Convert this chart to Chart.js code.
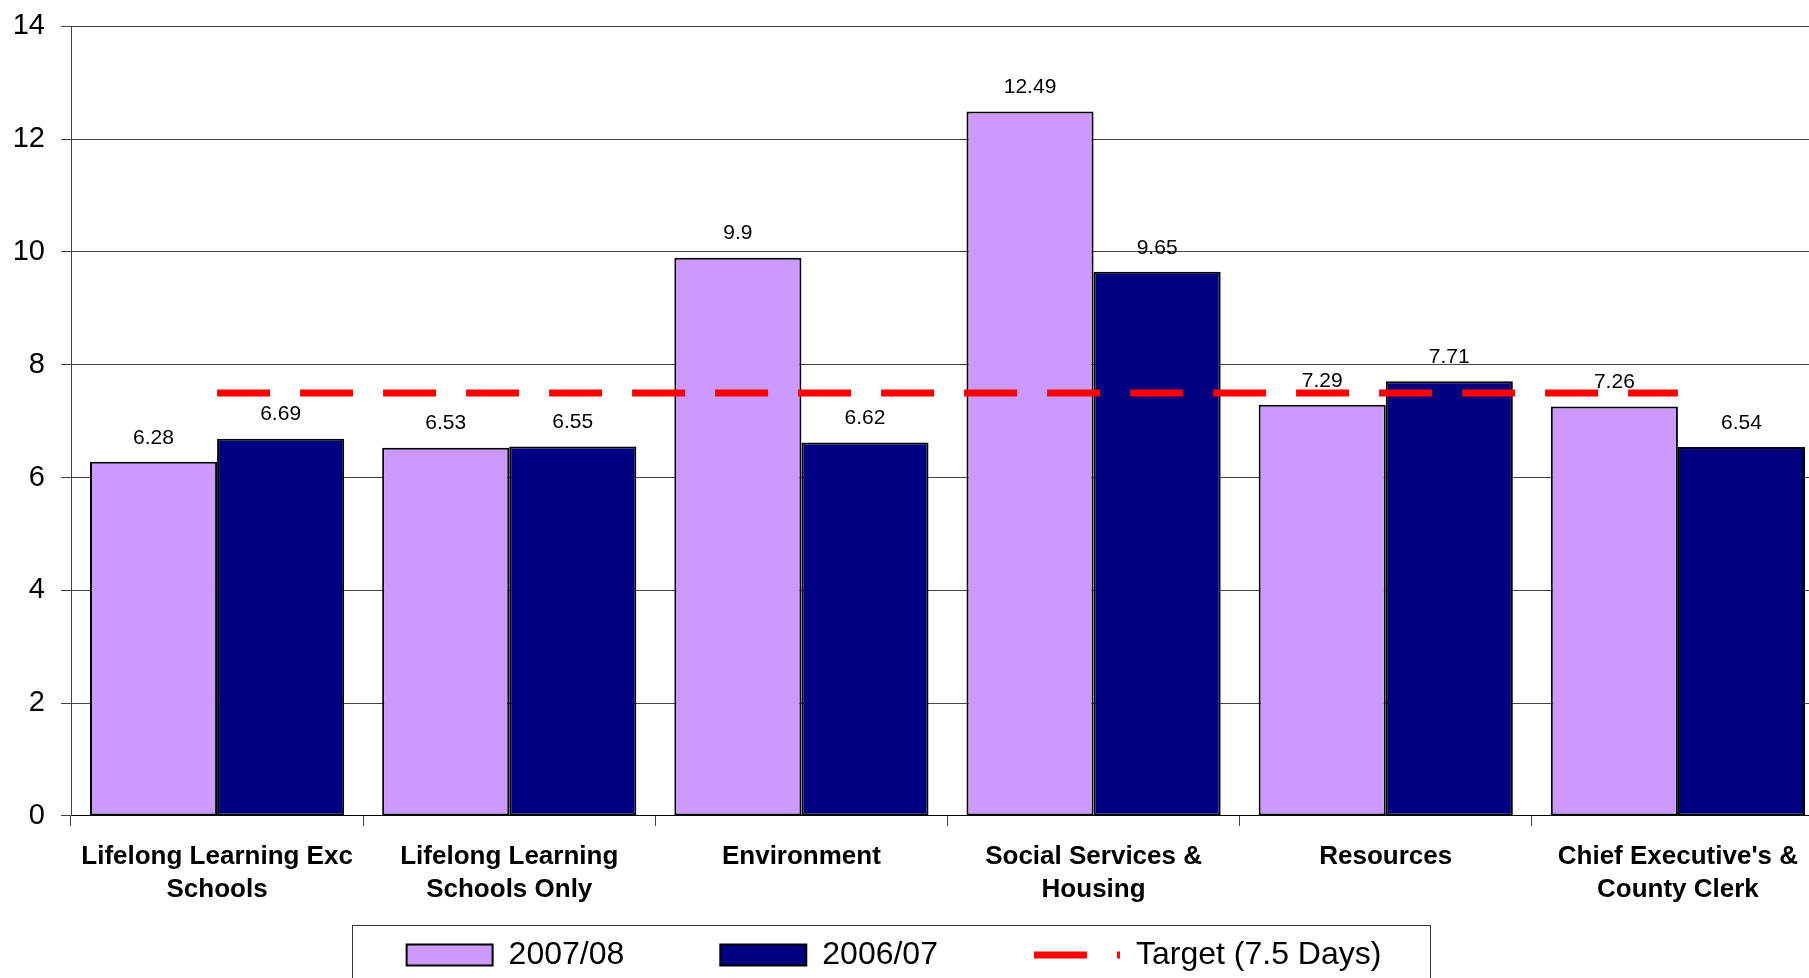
<!DOCTYPE html>
<html>
<head>
<meta charset="utf-8">
<title>Days Lost per Employee by Directorate</title>
<script src="https://cdn.jsdelivr.net/npm/chart.js@4"></script>
<style>
  html, body { margin: 0; padding: 0; overflow: hidden; background: #fff; }
  #chart { position: absolute; left: -36px; top: -7px; }
</style>
</head>
<body>
<canvas id="chart" width="1860" height="1065"></canvas>
<script>
// directorates along the x axis (multi-line labels)
const categories = [
  ['Lifelong Learning Exc', 'Schools'],
  ['Lifelong Learning', 'Schools Only'],
  'Environment',
  ['Social Services &', 'Housing'],
  'Resources',
  ["Chief Executive's &", 'County Clerk']
];

const days2007 = [6.28, 6.53, 9.9, 12.49, 7.29, 7.26];
const days2006 = [6.69, 6.55, 6.62, 9.65, 7.71, 6.54];
const targetDays = [7.5, 7.5, 7.5, 7.5, 7.5, 7.5];

const yMin = 0;
const yMax = 14;
const yStep = 2;

Chart.defaults.font.family = "'Liberation Sans', Arial, sans-serif";
Chart.defaults.color = '#000';

// value written above each bar
const barValues = {
  id: 'barValues',
  afterDatasetsDraw(chart) {
    const ctx = chart.ctx;
    ctx.save();
    ctx.font = "21px 'Liberation Sans', Arial, sans-serif";
    ctx.fillStyle = '#000';
    ctx.textAlign = 'center';
    ctx.textBaseline = 'middle';
    chart.data.datasets.forEach((ds, i) => {
      if (ds.type === 'line') return;
      chart.getDatasetMeta(i).data.forEach((bar, j) => {
        ctx.fillText(String(ds.data[j]), bar.x, bar.y - 24);
      });
    });
    ctx.restore();
  }
};

// the legend uses a wide label padding for the gaps between items,
// so pull it back up under the axis labels
const legendLift = {
  id: 'legendLift',
  afterLayout(chart) {
    const lg = chart.legend;
    const shift = lg.top - (chart.scales.x.top + 27);
    lg.top -= shift;
    lg.bottom -= shift;
  }
};

// thin frame round the legend row
const legendFrame = {
  id: 'legendFrame',
  afterDraw(chart) {
    const boxes = chart.legend.legendHitBoxes;
    if (!boxes || !boxes.length) return;
    const first = boxes[0];
    const last = boxes[boxes.length - 1];
    const left = Math.round(first.left - 55) + 0.5;
    const right = Math.round(last.left + last.width + 49) + 0.5;
    const top = Math.round(first.top + 16 - 30) + 0.5;
    const ctx = chart.ctx;
    ctx.save();
    ctx.strokeStyle = '#333';
    ctx.lineWidth = 1;
    ctx.strokeRect(left, top, right - left, chart.height);
    ctx.restore();
  }
};

new Chart(document.getElementById('chart'), {
  type: 'bar',
  data: {
    labels: categories,
    datasets: [
      {
        label: '2007/08',
        data: days2007,
        backgroundColor: '#CC99FF',
        borderColor: '#000',
        borderWidth: 2,
        borderSkipped: false,
        order: 1
      },
      {
        label: '2006/07',
        data: days2006,
        backgroundColor: '#000080',
        borderColor: '#000',
        borderWidth: 2,
        borderSkipped: false,
        order: 1
      },
      {
        type: 'line',
        label: 'Target (7.5 Days)',
        data: targetDays,
        borderColor: '#FF0000',
        backgroundColor: '#FF0000',
        borderWidth: 7,
        borderDash: [53, 30],
        pointRadius: 0,
        fill: false,
        order: 0
      }
    ]
  },
  options: {
    responsive: false,
    animation: false,
    events: [],
    layout: { padding: { top: 25, right: 0, left: 0, bottom: 0 } },
    datasets: {
      bar: { barPercentage: 1, categoryPercentage: 0.87 }
    },
    scales: {
      x: {
        offset: true,
        grid: {
          offset: true,
          drawOnChartArea: false,
          color: '#444',
          tickLength: 10
        },
        border: { color: '#000', width: 1 },
        ticks: {
          autoSkip: false,
          maxRotation: 0,
          padding: 14,
          color: '#000',
          font: { size: 26, weight: 'bold', lineHeight: 1.27 }
        }
      },
      y: {
        min: yMin,
        max: yMax,
        grid: { color: '#444', tickLength: 10 },
        border: { color: '#444', width: 1 },
        ticks: {
          stepSize: yStep,
          padding: 16,
          color: '#000',
          font: { size: 29 }
        },
        afterFit(scale) { scale.width = 107; }
      }
    },
    plugins: {
      tooltip: { enabled: false },
      legend: {
        position: 'bottom',
        labels: {
          usePointStyle: true,
          pointStyleWidth: 86,
          boxHeight: 21,
          padding: 96,
          color: '#000',
          font: { size: 32 },
          generateLabels: (chart) => chart.data.datasets.map((ds, i) => ({
            text: ds.label,
            fillStyle: ds.backgroundColor,
            strokeStyle: ds.borderColor,
            lineWidth: ds.borderWidth,
            lineDash: ds.borderDash || [],
            pointStyle: ds.type === 'line' ? 'line' : 'rect',
            fontColor: '#000',
            hidden: false,
            datasetIndex: i
          }))
        }
      }
    }
  },
  plugins: [barValues, legendLift, legendFrame]
});
</script>
</body>
</html>
